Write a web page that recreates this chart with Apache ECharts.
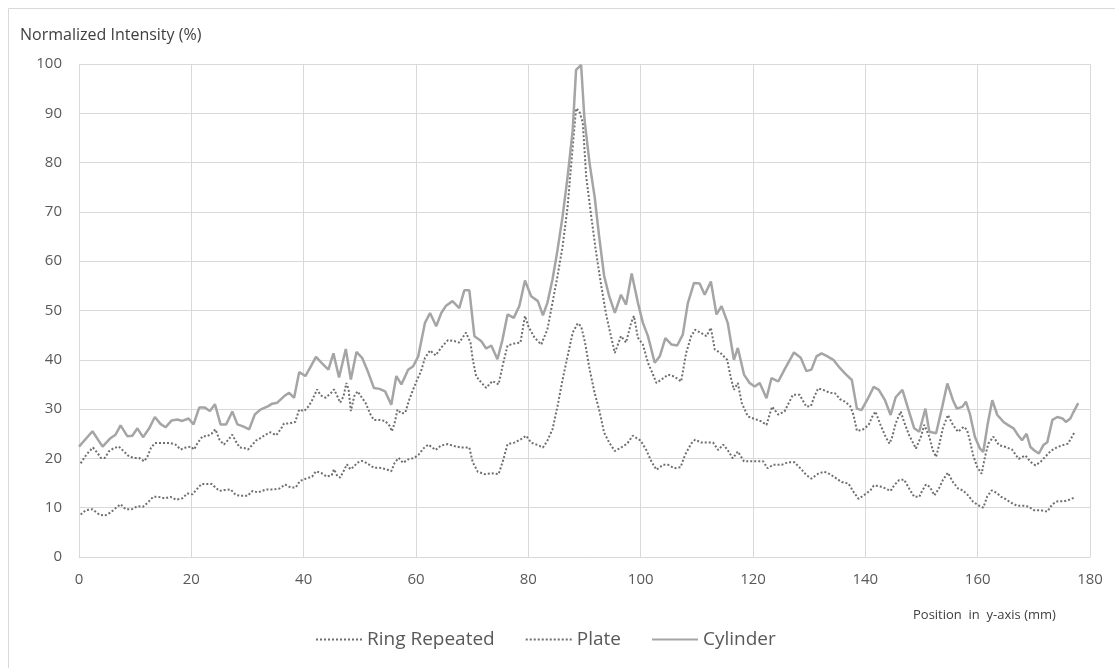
<!DOCTYPE html>
<html>
<head>
<meta charset="utf-8">
<script src="https://cdn.jsdelivr.net/npm/echarts@6/dist/echarts.min.js"></script>
<style>
  html, body { margin: 0; padding: 0; background: #fff; }
  #chart { width: 1115px; height: 668px; }
</style>
</head>
<body>
<div id="chart"></div>
<script>
// position (mm) and normalized intensity (%)
const cylinderX = [0, 2.4, 4.2, 5.6, 6.5, 7.4, 8.6, 9.5, 10.4, 11.4, 12.5, 13.5, 14.5, 15.4, 16.5, 17.5, 18.4, 19.5, 20.4, 21.4, 22.4, 23.3, 24.2, 25.2, 26.2, 27.3, 28.2, 29.2, 30.3, 31.3, 32.3, 33.7,
  34.4, 35.3, 36.5, 37.4, 38.3, 39.2, 40.3, 41.3, 42.2, 43.5, 44.4, 45.3, 46.3, 47.5, 48.4, 49.4, 50.4, 51.3, 52.5, 53.5, 54.5, 55.6, 56.5, 57.4, 58.6, 59.5, 60.4, 61.6, 62.5, 63.6,
  64.5, 65.3, 66.5, 67.7, 68.6, 69.5, 70.4, 71.6, 72.5, 73.4, 74.5, 75.4, 76.3, 77.4, 78.4, 79.4, 80.5, 81.7, 82.6, 83.4, 84.3, 85.2, 86.1, 87, 87.9, 88.5, 89.4, 90, 90.9, 91.8, 92.6, 93.5, 94.4, 95.4, 96.5, 97.4, 98.4, 99.5,
  100.4, 101.3, 102.5, 103.4, 104.4, 105.5, 106.5, 107.5, 108.4, 109.5, 110.5, 111.4, 112.5, 113.5, 114.4, 115.5, 116.6, 117.3, 118.4, 119.4, 120.3, 121.2, 122.4, 123.3, 124.5, 125.6, 127.3, 128.5, 129.5, 130.4, 131.3, 132.2,
  133.1, 134.3, 135.5, 136.5, 137.6, 138.5, 139.3, 140.3, 141.5, 142.4, 143.5, 144.5, 145.4, 146.6, 147.7, 148.7, 149.6, 150.7, 151.4, 152.6, 153.7, 154.6, 155.6, 156.3, 157.3, 157.9, 158.6, 159.5, 160.4, 161, 161.8, 162.6,
  163.5, 164.6, 165.5, 166.4, 167.2, 167.9, 168.7, 169.4, 170.1, 170.9, 171.7, 172.4, 173.3, 174.2, 175.1, 175.7, 176.5, 177.1, 177.9];
const cylinderY = [22.4, 25.5, 22.4, 24.1, 24.8, 26.7, 24.5, 24.6, 26.1, 24.3, 26.1, 28.4, 27, 26.3, 27.7, 27.9, 27.6, 28.1, 26.9, 30.3, 30.3, 29.6, 31, 26.9, 26.9, 29.5, 26.9, 26.5, 25.9, 28.9, 29.9, 30.6,
  31.1, 31.3, 32.6, 33.3, 32.3, 37.5, 36.7, 38.7, 40.6, 39, 38, 41.3, 36.4, 42.2, 36, 41.6, 40.4, 38, 34.3, 34.1, 33.6, 30.9, 36.7, 35, 38, 38.7, 40.7, 47.5, 49.5, 46.8,
  49.5, 50.9, 51.9, 50.5, 54.1, 54.1, 44.8, 43.8, 42.3, 42.9, 40.1, 44.1, 49.2, 48.5, 50.9, 56.1, 52.9, 51.9, 49, 51.6, 56.3, 62.3, 69.1, 77.2, 86.6, 98.8, 99.8, 88.7, 79.9, 73.1, 65.1, 57, 52.9, 49.5, 53.2, 51.2, 57.5, 51.6,
  47.5, 44.8, 39.4, 40.7, 44.4, 43.1, 42.9, 45.1, 51.5, 55.6, 55.5, 53.2, 55.9, 49.2, 50.9, 47.5, 40, 42.4, 37, 35.3, 34.6, 35.3, 32.2, 36.3, 35.6, 38, 41.5, 40.4, 37.7, 38, 40.7, 41.3,
  40.8, 40, 38.3, 37.1, 35.9, 30.1, 29.8, 31.8, 34.5, 33.9, 31.8, 28.8, 32.4, 33.9, 29.8, 26.1, 25.4, 30.1, 25.4, 25.1, 30.5, 35.2, 31.8, 30.1, 30.5, 31.5, 29.1, 24.4, 22, 21.3, 27.1, 31.8,
  28.8, 27.4, 26.7, 26.1, 24.7, 23.7, 25, 22.3, 21.6, 21, 22.7, 23.3, 27.8, 28.4, 28.1, 27.4, 28.1, 29.5, 31.2];

const plateX = [0.3, 1.1, 1.8, 2.5, 3.3, 3.9, 4.6, 5.3, 6.2, 7.1, 8, 8.9, 9.8, 10.7, 11.6, 12.2, 12.8, 13.5, 14.5, 15.4, 16.3, 17.2, 18.1, 19, 19.9, 20.5, 21.1, 22, 22.8, 23.6, 24.3, 25, 25.8, 26.6, 27.3, 27.9, 28.6, 29.4, 30.1, 30.9, 31.5, 32.3, 33.2,
  34.1, 35.1, 35.9, 36.5, 37.5, 38.5, 39.2, 40.1, 40.9, 41.5, 42.4, 43, 43.9, 44.8, 45.4, 46, 46.5, 47.1, 47.6, 48, 48.4, 49, 49.6, 50.2, 51, 51.9, 52.5, 53.5, 54.5, 55.3, 55.7, 56.2, 56.7, 57.4, 58.1, 58.7, 59.5, 60.1, 60.9, 61.6, 62.5, 63.5, 64.5,
  65.7, 66.8, 67.7, 68.9, 69.7, 70.1, 70.7, 71.6, 72.5, 73.6, 74.7, 75.4, 76.3, 77.5, 78.6, 79.4, 80, 81.1, 82.3, 83.4, 84.3, 85.2, 86.1, 87, 87.7, 88.5, 89.1, 89.7, 90.3, 91.2, 92, 92.9, 93.8, 94.7, 95.4, 96.5, 97.4, 98.3, 98.8, 99.5,
  100.4, 101.3, 102.2, 102.8, 103.7, 104.9, 106, 107.2, 108.1, 109, 109.7, 110.8, 111.7, 112.5, 113.2, 114.2, 115.4, 116, 116.6, 117.3, 118, 119.1, 120.3, 121.5, 122.4, 123.4, 124.5, 125.6, 127.1, 128.3,
  129.5, 130.3, 130.9, 131.6, 132.5, 133.7, 134.6, 135.5, 136.4, 137.3, 137.9, 138.5, 139.5, 140.6, 141.2, 141.8, 142.7, 143.6, 144.3, 144.8, 145.4, 146.3, 146.9, 147.8, 149, 149.9, 150.5, 151.4, 152, 152.6, 153.2, 153.8, 154.7, 155.6, 156.5, 157.5, 158.1, 158.6, 159.2, 159.9, 160.7, 161.3, 161.9, 162.8,
  163.8, 165, 166.1, 167.3, 168.5, 169.4, 170.3, 171.2, 172.1, 173.1, 174.2, 175.2, 176.1, 176.7, 177.3];
const plateY = [19, 20.4, 21.4, 22.2, 21.1, 20.1, 20.1, 21.4, 22.1, 22.4, 21.4, 20.4, 20.1, 20.1, 19.4, 20.4, 22.1, 23.1, 23.1, 23.1, 23.1, 22.8, 21.8, 22.2, 22.4, 21.8, 23.1, 24.5, 24.5, 25, 25.9, 23.8, 22.8, 23.8, 24.8, 23.5, 22.2, 22.1, 21.8, 22.8, 23.6, 24.1, 24.8,
  25.3, 24.7, 25.9, 27.1, 27.1, 27.4, 29.9, 29.6, 30.6, 31.8, 34, 32.8, 32.3, 33.2, 34, 32.6, 31.3, 32.6, 35.3, 34, 29.6, 32.6, 33.6, 32.6, 31.3, 28.9, 27.8, 27.8, 27.6, 26.6, 25.5, 27.2, 29.9, 29.1, 29.3, 31.6, 34, 35.7, 37.7, 40.4, 41.9, 40.9, 42.5,
  44, 43.8, 43.5, 45.5, 43.5, 40.1, 36.7, 35.4, 34.3, 35.7, 35, 38.7, 42.9, 43.3, 43.5, 48.9, 46.8, 44.5, 43.1, 46.2, 51.6, 57, 63, 71.1, 80.6, 91, 90.4, 88, 77.2, 69.1, 62.3, 55.6, 49.5, 44.8, 41.4, 44.8, 43.5, 47.5, 48.9, 44.5,
  43.1, 39.4, 37, 35.3, 36, 37, 36.6, 35.6, 41.4, 44.8, 46.1, 45.4, 44.8, 46.5, 42.1, 41.4, 40, 36.6, 33.9, 35.3, 31.2, 28.5, 28, 27.5, 26.8, 30.5, 28.9, 29.5, 32.9, 32.9,
  30.5, 30.6, 32.5, 34.2, 33.9, 33.3, 33.2, 32, 31.5, 30.6, 28.8, 25.6, 25.8, 26.8, 28.4, 29.5, 26.8, 24.4, 23, 24.4, 27.1, 29.5, 27.4, 24.7, 22, 24.4, 26.8, 24.4, 21.7, 20.3, 23, 26.1, 28.8, 26.8, 25.4, 26.4, 25.8, 23.7, 20.6, 18.3, 16.9, 20.3, 23, 24.4,
  22.7, 22.3, 21.8, 19.9, 20.6, 19.3, 18.6, 19.3, 20.4, 21.6, 22.3, 22.7, 23, 24.2, 25.4];

const ringX = [0.3, 1.2, 2.4, 3.6, 4.6, 5.6, 6.5, 7.4, 8.3, 9.4, 10.4, 11.4, 12.3, 13.2, 14.1, 15.3, 16.3, 17.3, 18.4, 19.3, 20.2, 21.1, 21.8, 22.7, 23.6, 24.3, 25, 26, 27, 27.9, 28.8, 30, 30.9, 31.9, 33.3,
  34.7, 35.7, 36.7, 37.7, 38.6, 39.3, 40.4, 41.5, 42.2, 43.2, 44.1, 45, 45.4, 46, 46.5, 47.1, 47.7, 48.3, 48.9, 49.5, 50.4, 51.3, 52.5, 53.5, 54.7, 55.6, 56.2, 56.9, 57.7, 58.6, 59.7, 60.5, 61.3, 62.2, 63.5, 64.4,
  65.7, 66.8, 68, 69.5, 70.1, 71, 72.2, 73.4, 74.7, 75.4, 76.3, 77.5, 78.7, 79.6, 80.5, 81.7, 82.6, 83.4, 84.3, 85.2, 86.1, 87, 87.9, 88.8, 89.4, 90.1, 90.9, 91.8, 92.6, 93.5, 94.4, 95.4, 96.5, 97.6, 98.6, 100,
  101, 101.9, 102.8, 104, 104.9, 106, 107.1, 107.9, 109, 109.7, 110.8, 111.9, 112.9, 113.8, 114.7, 115.5, 116.4, 117.3, 118.4, 119.4, 120.6, 121.8, 122.6, 123.6, 125.1, 126.2, 127.4,
  128.6, 129.5, 130.4, 131.6, 132.7, 133.7, 134.9, 135.8, 137, 137.9, 138.8, 139.7, 140.9, 141.5, 142.7, 143.6, 144.5, 145.1, 146, 146.9, 147.8, 148.7, 149.6, 150.1, 150.8, 151.5, 152.3, 153.1, 153.8, 154.7, 155.6, 156.5, 157.4, 158.3, 159.2, 160.1, 161, 161.7, 162.5, 163.4,
  164.2, 164.9, 165.8, 167, 168.2, 169.1, 170, 171.2, 172.4, 173.3, 174.2, 175.4, 176.3, 177.3];
const ringY = [8.6, 9.5, 9.7, 8.6, 8.4, 9, 9.9, 10.7, 9.7, 9.7, 10.3, 10.2, 11.1, 12.2, 12.2, 11.9, 12.2, 11.6, 11.9, 12.9, 12.7, 13.9, 14.8, 14.8, 14.8, 14.1, 13.4, 13.6, 13.7, 12.6, 12.4, 12.4, 13.4, 13.1, 13.7,
  13.7, 13.9, 14.7, 14.1, 14.1, 15.4, 15.9, 16.3, 17.4, 17, 16.3, 16.6, 17.8, 16.4, 16.1, 17.4, 18.8, 17.8, 18.3, 19.1, 19.5, 19, 18.1, 18.1, 17.8, 17.4, 19.1, 20.1, 19.1, 19.8, 20.1, 20.8, 22, 22.8, 21.7, 22.6,
  22.9, 22.5, 22.2, 22.2, 19.2, 17.3, 16.8, 17, 16.8, 19.2, 22.9, 23.2, 23.9, 24.6, 23.2, 22.7, 22.2, 23.6, 25.9, 30.6, 36, 40.8, 45.5, 47.4, 46.8, 43.5, 38.1, 33.3, 29.9, 25.2, 23.2, 21.5, 22.2, 23, 24.6, 23.6,
  21.7, 19.4, 17.7, 18.7, 18.7, 18, 18.2, 20.7, 23, 23.8, 23.2, 23.2, 23.2, 21.7, 22.8, 21.7, 20, 21.4, 19.4, 19.4, 19.4, 19.4, 18, 18.7, 18.7, 19.2, 19.2,
  17.8, 16.6, 15.9, 16.9, 17.3, 16.8, 15.9, 15.2, 14.9, 13.2, 11.8, 12.5, 13.5, 14.5, 14.3, 13.9, 13.4, 14.5, 15.6, 15.7, 13.9, 12.2, 12.2, 13.4, 14.7, 14.2, 12.5, 13.9, 15.6, 17.1, 15.2, 13.9, 13.5, 12.5, 11.2, 10.5, 10, 12.3, 13.5, 13,
  12.2, 11.8, 11.1, 10.4, 10.4, 10.2, 9.5, 9.5, 9.2, 10.7, 11.3, 11.3, 11.6, 12.1];

const pairs = (xs, ys) => xs.map((x, i) => [x, ys[i]])

const chart = echarts.init(document.getElementById('chart'))

const textColor = '#595959'
const gridColor = '#d9d9d9'
const fontFamily = '"Open Sans", "Noto Sans", sans-serif'

const option = {
  backgroundColor: '#ffffff',
  animation: false,
  textStyle: { fontFamily: fontFamily },
  title: [
    {
      text: 'Normalized Intensity (%)',
      left: 15,
      top: 22,
      textStyle: { fontSize: 16, fontWeight: 'normal', color: '#404040', fontFamily: fontFamily }
    },
    {
      text: 'Position  in  y-axis (mm)',
      left: 908,
      top: 604,
      textStyle: { fontSize: 13, fontWeight: 'normal', color: '#404040', fontFamily: fontFamily }
    }
  ],
  graphic: [
    {
      type: 'rect',
      shape: { x: 8.5, y: 8.5, width: 1120, height: 680 },
      style: { fill: 'none', stroke: gridColor, lineWidth: 1 },
      silent: true
    }
  ],
  legend: {
    top: 625,
    left: 310,
    itemWidth: 46,
    itemHeight: 14,
    itemGap: 30,
    // hide the symbol in the legend icon, keep only the line
    itemStyle: { opacity: 0, borderWidth: 0 },
    textStyle: { fontSize: 19, color: textColor, fontFamily: fontFamily },
    data: ['Ring Repeated', 'Plate', 'Cylinder']
  },
  grid: {
    left: 79,
    right: 25,
    top: 64,
    bottom: 111,
    containLabel: false
  },
  xAxis: {
    type: 'value',
    min: 0,
    max: 180,
    interval: 20,
    axisLine: { show: true, lineStyle: { color: gridColor, width: 1 } },
    axisTick: { show: false },
    axisLabel: { color: textColor, fontSize: 15, margin: 15 },
    splitLine: { show: true, lineStyle: { color: gridColor, width: 1 } }
  },
  yAxis: {
    type: 'value',
    min: 0,
    max: 100,
    interval: 10,
    axisLine: { show: false },
    axisTick: { show: false },
    axisLabel: { color: textColor, fontSize: 15, margin: 17 },
    splitLine: { show: true, lineStyle: { color: gridColor, width: 1 } }
  },
  series: [
    {
      name: 'Ring Repeated',
      type: 'line',
      showSymbol: false,
      symbol: 'none',
      itemStyle: { color: '#6f6f6f' },
      lineStyle: { color: '#6f6f6f', width: 2, type: [2, 2] },
      data: pairs(ringX, ringY)
    },
    {
      name: 'Plate',
      type: 'line',
      showSymbol: false,
      symbol: 'none',
      itemStyle: { color: '#6f6f6f' },
      lineStyle: { color: '#6f6f6f', width: 2, type: [2, 2] },
      data: pairs(plateX, plateY)
    },
    {
      name: 'Cylinder',
      type: 'line',
      showSymbol: false,
      symbol: 'none',
      itemStyle: { color: '#a5a5a5' },
      lineStyle: { color: '#a5a5a5', width: 2.5 },
      data: pairs(cylinderX, cylinderY)
    }
  ]
}

chart.setOption(option)
</script>
</body>
</html>
